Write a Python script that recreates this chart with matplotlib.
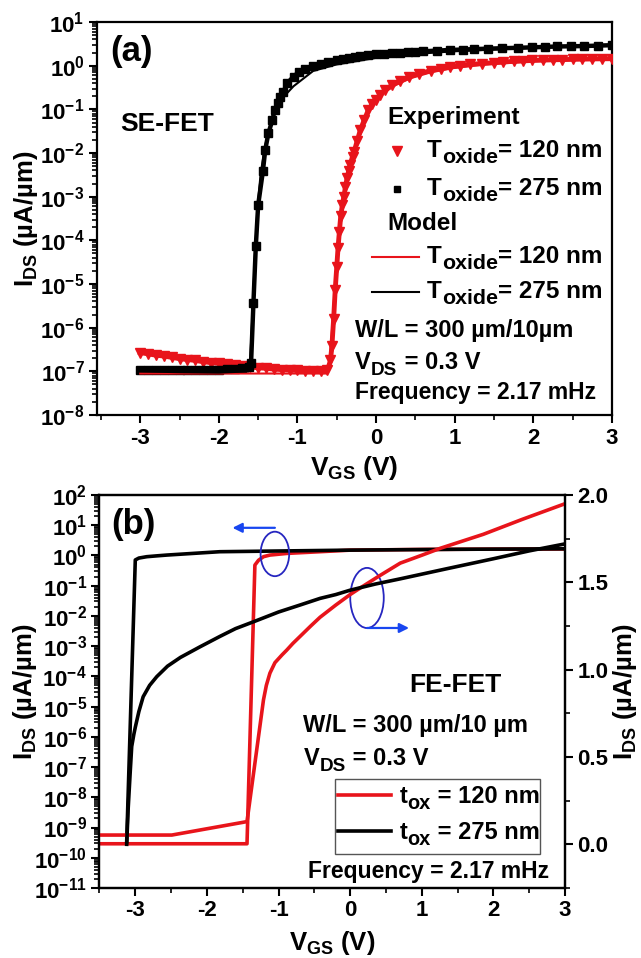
import numpy as np
import matplotlib
matplotlib.use("Agg")
import matplotlib.pyplot as plt
from matplotlib.ticker import MultipleLocator, LogLocator, NullFormatter, FuncFormatter
from matplotlib.patches import Ellipse, Rectangle

plt.rcParams['font.family'] = ['Liberation Sans', 'DejaVu Sans']
plt.rcParams['font.weight'] = 'bold'
plt.rcParams['axes.labelweight'] = 'bold'
plt.rcParams['axes.unicode_minus'] = False
plt.rcParams['mathtext.fontset'] = 'custom'
plt.rcParams['mathtext.rm'] = 'Liberation Sans:bold'
plt.rcParams['mathtext.bf'] = 'Liberation Sans:bold'
plt.rcParams['mathtext.it'] = 'Liberation Sans:bold'
plt.rcParams['mathtext.sf'] = 'Liberation Sans:bold'

RED = '#e8141b'
BLUE_E = '#2626c0'
BLUE_A = '#1846f0'

#---------------------------------------------------------------------------------
# panel (a) SE-FET, values as log10(I_DS)

exp120_v = [-3.0, -2.9, -2.8, -2.7, -2.6, -2.5, -2.4, -2.3, -2.2, -2.1, -2.0, -1.9, -1.8, -1.7,
            -1.6, -1.5, -1.4, -1.3, -1.2, -1.1, -1.0, -0.9, -0.8, -0.7, -0.62, -0.58, -0.562,
            -0.54, -0.52, -0.5, -0.484, -0.467, -0.45, -0.43, -0.41, -0.39, -0.37, -0.35, -0.33,
            -0.3, -0.28, -0.24, -0.2, -0.15, -0.1, -0.05, 0.0, 0.05, 0.11, 0.2, 0.3, 0.42, 0.55,
            0.7, 0.82, 0.94, 1.07, 1.2, 1.35, 1.5, 1.62, 1.75, 1.87, 1.98, 2.12, 2.25, 2.37, 2.5,
            2.62, 2.75, 2.87, 3.0]
exp120_log = [-6.57, -6.6, -6.63, -6.65, -6.68, -6.71, -6.73, -6.75, -6.78, -6.8, -6.82, -6.84,
              -6.86, -6.88, -6.9, -6.92, -6.93, -6.95, -6.96, -6.97, -6.98, -6.99, -7.0, -7.0,
              -6.98, -6.75, -6.42, -5.8, -5.13, -4.6, -4.17, -3.8, -3.45, -3.2, -3.0, -2.78,
              -2.58, -2.42, -2.27, -2.08, -1.97, -1.72, -1.47, -1.24, -1.02, -0.88, -0.78, -0.66,
              -0.56, -0.45, -0.36, -0.26, -0.18, -0.11, -0.07, -0.03, 0.0, 0.03, 0.05, 0.07,
              0.085, 0.1, 0.11, 0.12, 0.128, 0.135, 0.14, 0.145, 0.15, 0.155, 0.158, 0.16]

exp275_v = [-3.0, -2.9, -2.8, -2.7, -2.6, -2.5, -2.4, -2.3, -2.2, -2.1, -2.0, -1.9, -1.8, -1.7,
            -1.62, -1.59, -1.56, -1.53, -1.5, -1.44, -1.41, -1.37, -1.32, -1.29, -1.25, -1.22,
            -1.18, -1.13, -1.05, -0.98, -0.9, -0.8, -0.7, -0.61, -0.5, -0.42, -0.35, -0.27,
            -0.2, -0.1, 0.0, 0.1, 0.2, 0.3, 0.4, 0.5, 0.6, 0.77, 0.94, 1.1, 1.25, 1.42, 1.6,
            1.8, 1.98, 2.15, 2.3, 2.48, 2.65, 2.82, 3.0]
exp275_log = [-6.97, -6.97, -6.98, -6.98, -6.98, -6.98, -6.98, -6.98, -6.97, -6.97, -6.96,
              -6.95, -6.94, -6.93, -6.9, -6.8, -5.43, -4.14, -3.19, -2.42, -1.93, -1.55, -1.25,
              -1.02, -0.85, -0.71, -0.6, -0.4, -0.25, -0.14, -0.07, 0.0, 0.05, 0.09, 0.13, 0.155,
              0.18, 0.2, 0.22, 0.24, 0.26, 0.275, 0.29, 0.3, 0.31, 0.32, 0.33, 0.345, 0.36, 0.37,
              0.38, 0.39, 0.4, 0.41, 0.42, 0.43, 0.44, 0.445, 0.45, 0.46, 0.47]

mod120_v = [-3.0, -2.0, -1.0, -0.62, -0.6, -0.57, -0.54, -0.51, -0.48, -0.45, -0.42, -0.38,
            -0.34, -0.29, -0.22, -0.15, -0.08, 0.0, 0.1, 0.25, 0.45, 0.7, 1.0, 1.4, 2.0, 2.5, 3.0]
mod120_log = [-7.05, -7.05, -7.05, -7.05, -6.9, -6.3, -5.5, -4.7, -4.05, -3.5, -3.1, -2.65,
              -2.32, -2.0, -1.62, -1.28, -1.02, -0.82, -0.62, -0.44, -0.28, -0.15, -0.05, 0.03,
              0.1, 0.13, 0.15]

mod275_v = [-3.0, -2.5, -2.0, -1.62, -1.6, -1.57, -1.54, -1.51, -1.47, -1.42, -1.36, -1.28,
            -1.18, -1.05, -0.8, -0.5, 0.0, 0.5, 1.0, 2.0, 3.0]
mod275_log = [-7.0, -7.02, -7.03, -7.0, -6.7, -5.6, -4.3, -3.3, -2.5, -1.9, -1.45, -1.05,
              -0.72, -0.47, -0.12, 0.03, 0.18, 0.27, 0.33, 0.41, 0.47]

#---------------------------------------------------------------------------------
# panel (b) FE-FET, log curves (left axis) and linear curves (right axis)

fe120_log_v = [-3.5, -1.44, -1.33, -1.28, -1.21, -1.12, -0.88, -0.42, 0.0, 1.0, 2.0, 3.0]
fe120_log_i = [2.9e-10, 2.9e-10, 0.48, 0.69, 0.91, 1.03, 1.17, 1.33, 1.5, 1.58, 1.62, 1.64]

fe275_log_v = [-3.12, -3.0, -2.95, -2.84, -2.7, -2.56, -1.82, 0.0, 1.5, 3.0]
fe275_log_i = [3.4e-10, 0.71, 0.82, 0.91, 0.97, 1.03, 1.33, 1.5, 1.6, 1.66]

fe120_lin_v = [-3.5, -2.49, -1.44, -1.21, -1.17, -1.12, -1.05, -0.95, -0.885, -0.8, -0.65,
               -0.55, -0.42, -0.2, 0.0, 0.15, 0.4, 0.7, 1.0, 1.26, 1.86, 2.4, 3.0]
fe120_lin_i = [0.053, 0.053, 0.13, 0.827, 0.91, 0.98, 1.04, 1.085, 1.112, 1.15, 1.21,
               1.25, 1.30, 1.37, 1.43, 1.47, 1.535, 1.61, 1.655, 1.695, 1.775, 1.86, 1.95]

fe275_lin_v = [-3.12, -3.1, -3.07, -3.05, -3.02, -3.0, -2.95, -2.89, -2.8, -2.7, -2.55, -2.37,
               -2.1, -1.82, -1.6, -1.35, -1.0, -0.7, -0.42, -0.2, 0.0, 0.35, 0.7, 1.34, 2.0,
               2.5, 3.0]
fe275_lin_i = [0.0, 0.2, 0.42, 0.56, 0.63, 0.67, 0.76, 0.845, 0.91, 0.96, 1.02, 1.07,
               1.13, 1.19, 1.235, 1.274, 1.33, 1.37, 1.408, 1.43, 1.455, 1.49, 1.52, 1.577,
               1.635, 1.68, 1.72]

x_ticks = [-3, -2, -1, 0, 1, 2, 3]
lin_ticks = [0.0, 0.5, 1.0, 1.5, 2.0]


def sub_text(ax, x, y, pieces, size, sub_scale=0.88):
    #write text with subscripts, piece by piece, each one anchored on the previous one
    first = ax.text(x, y, pieces[0][0], transform=ax.transAxes, fontsize=size,
                    va='baseline', ha='left', zorder=6)
    prev = first
    for s, is_sub in pieces[1:]:
        if is_sub:
            t = ax.annotate(s, xy=(1, 0), xycoords=(prev, first), xytext=(0.3, -0.2*size),
                            textcoords='offset points', fontsize=sub_scale*size,
                            va='bottom', ha='left', zorder=6)
        else:
            t = ax.annotate(s, xy=(1, 0), xycoords=(prev, first), xytext=(0.3, 0),
                            textcoords='offset points', fontsize=size,
                            va='bottom', ha='left', zorder=6)
        prev = t
    return first


def log_fmt(v, p):
    return r"$\mathbf{10^{%d}}$" % int(round(np.log10(v)))


def style_axis(ax):
    for sp in ax.spines.values():
        sp.set_linewidth(1.6)
    ax.tick_params(which='major', direction='out', length=6, width=1.5, labelsize=16, pad=3)
    ax.tick_params(which='minor', direction='out', length=3.5, width=1.2)
    ax.xaxis.set_major_locator(MultipleLocator(1))
    ax.xaxis.set_minor_locator(MultipleLocator(0.5))
    ax.xaxis.set_major_formatter(FuncFormatter(lambda v, p: "%d" % int(round(v))))


fig = plt.figure(figsize=(6.41, 9.58), dpi=100)

#---------------------------------------------------------------------------------
# (a)
ax = fig.add_axes([0.1513, 0.5668, 0.8034, 0.4102])
ax.plot(exp120_v, 10**np.array(exp120_log), color=RED, lw=3.5, marker='v', ms=7.5,
        mec=RED, mfc=RED, zorder=3)
ax.plot(exp275_v, 10**np.array(exp275_log), color='black', lw=3.2, marker='s', ms=5.2,
        mec='black', mfc='black', zorder=3)
ax.plot(mod120_v, 10**np.array(mod120_log), color=RED, lw=1.5, zorder=4)
ax.plot(mod275_v, 10**np.array(mod275_log), color='black', lw=1.5, zorder=4)

ax.set_yscale('log')
ax.set_xlim(-3.55, 3)
ax.set_ylim(1e-8, 1e1)
style_axis(ax)
ax.yaxis.set_major_locator(LogLocator(base=10, numticks=20))
ax.yaxis.set_minor_locator(LogLocator(base=10, subs=np.arange(2, 10), numticks=20))
ax.yaxis.set_minor_formatter(NullFormatter())
ax.yaxis.set_major_formatter(FuncFormatter(log_fmt))
ax.set_xticks(x_ticks)

ax.set_xlabel(r"V$_{\mathbf{GS}}$ (V)", fontsize=19)
ax.xaxis.set_label_coords(0.5, -0.10)
ax.set_ylabel(r"I$_{\mathbf{DS}}$ (µA/µm)", fontsize=18.5)
ax.yaxis.label.set_verticalalignment('center')
ax.yaxis.set_label_coords(-0.137, 0.5)

ax.text(0.025, 0.924, "(a)", transform=ax.transAxes, fontsize=25, va='center', ha='left')
ax.text(0.045, 0.740, "SE-FET", transform=ax.transAxes, fontsize=19, va='center', ha='left')

# legend of panel (a), written by hand
ax.text(0.563, 0.758, "Experiment", transform=ax.transAxes, fontsize=17.5, va='center')
ax.plot([0.582], [0.672], 'v', color=RED, ms=7, transform=ax.transAxes)
sub_text(ax, 0.640, 0.657, [("T", False), ("oxide", True), ("= 120 nm", False)], 17.5)
ax.plot([0.582], [0.575], 's', color='black', ms=5, transform=ax.transAxes)
sub_text(ax, 0.640, 0.560, [("T", False), ("oxide", True), ("= 275 nm", False)], 17.5)
ax.text(0.563, 0.4885, "Model", transform=ax.transAxes, fontsize=17.5, va='center')
ax.plot([0.5334, 0.6258], [0.4028, 0.4028], color=RED, lw=1.5, transform=ax.transAxes)
sub_text(ax, 0.640, 0.387, [("T", False), ("oxide", True), ("= 120 nm", False)], 17.5)
ax.plot([0.5334, 0.6258], [0.3138, 0.3138], color='black', lw=1.5, transform=ax.transAxes)
sub_text(ax, 0.640, 0.298, [("T", False), ("oxide", True), ("= 275 nm", False)], 17.5)

ax.text(0.501, 0.2163, "W/L = 300 µm/10µm", transform=ax.transAxes, fontsize=17, va='center')
sub_text(ax, 0.501, 0.117, [("V", False), ("DS", True), (" = 0.3 V", False)], 17, 0.8)
ax.text(0.501, 0.056, "Frequency = 2.17 mHz", transform=ax.transAxes, fontsize=16.5,
        va='center')

#---------------------------------------------------------------------------------
# (b)
bx = fig.add_axes([0.1552, 0.0731, 0.7262, 0.4102])
bx2 = bx.twinx()

bx.plot(fe120_log_v, fe120_log_i, color=RED, lw=2.6)
bx.plot(fe275_log_v, fe275_log_i, color='black', lw=2.6)
bx2.plot(fe120_lin_v, fe120_lin_i, color=RED, lw=2.6)
bx2.plot(fe275_lin_v, fe275_lin_i, color='black', lw=2.6)

bx.set_yscale('log')
bx.set_xlim(-3.5, 3)
bx.set_ylim(1e-11, 1e2)
bx2.set_ylim(-0.25, 2.0)
style_axis(bx)
style_axis(bx2)
bx.yaxis.set_major_locator(LogLocator(base=10, numticks=20))
bx.yaxis.set_minor_locator(LogLocator(base=10, subs=np.arange(2, 10), numticks=20))
bx.yaxis.set_minor_formatter(NullFormatter())
bx.yaxis.set_major_formatter(FuncFormatter(log_fmt))
bx.set_xticks(x_ticks)
bx2.set_yticks(lin_ticks)
bx2.yaxis.set_minor_locator(MultipleLocator(0.25))
bx2.yaxis.set_major_formatter(FuncFormatter(lambda v, p: "%.1f" % v))

bx.set_xlabel(r"V$_{\mathbf{GS}}$ (V)", fontsize=18.5)
bx.xaxis.set_label_coords(0.5, -0.104)
bx.set_ylabel(r"I$_{\mathbf{DS}}$ (µA/µm)", fontsize=18.5)
bx.yaxis.label.set_verticalalignment('center')
bx.yaxis.set_label_coords(-0.160, 0.5)
bx2.set_ylabel(r"I$_{\mathbf{DS}}$ (µA/µm)", fontsize=18.5, rotation=90)
bx2.yaxis.label.set_verticalalignment('center')
bx2.yaxis.set_label_coords(1.130, 0.5)

bx2.text(0.0247, 0.926, "(b)", transform=bx2.transAxes, fontsize=25, va='center', ha='left')
bx2.text(0.666, 0.5165, "FE-FET", transform=bx2.transAxes, fontsize=19, va='center')
bx2.text(0.438, 0.4127, "W/L = 300 µm/10 µm", transform=bx2.transAxes, fontsize=17,
         va='center')
sub_text(bx2, 0.438, 0.313, [("V", False), ("DS", True), (" = 0.3 V", False)], 17, 0.8)
bx2.text(0.4486, 0.0407, "Frequency = 2.17 mHz", transform=bx2.transAxes, fontsize=16.5,
         va='center')

# ellipses and arrows telling which curves go with which axis
bx2.add_patch(Ellipse((0.3768, 0.850), 0.0614, 0.1132, transform=bx2.transAxes, fill=False,
                      ec=BLUE_E, lw=1.3))
bx2.annotate("", xy=(0.2857, 0.9165), xytext=(0.3768, 0.9165), xycoords='axes fraction',
             arrowprops=dict(arrowstyle='-|>', color=BLUE_A, lw=1.6, mutation_scale=14,
                             shrinkA=0, shrinkB=0))
bx2.add_patch(Ellipse((0.5747, 0.738), 0.072, 0.153, transform=bx2.transAxes, fill=False,
                      ec=BLUE_E, lw=1.3))
bx2.annotate("", xy=(0.665, 0.6616), xytext=(0.5747, 0.6616), xycoords='axes fraction',
             arrowprops=dict(arrowstyle='-|>', color=BLUE_A, lw=1.6, mutation_scale=14,
                             shrinkA=0, shrinkB=0))

# legend box of panel (b), written by hand so that it sits where the reference has it
bx2.add_patch(Rectangle((0.5063, 0.0868), 0.44, 0.1916, transform=bx2.transAxes,
                        fc='white', ec='#555555', lw=1.0, zorder=5))
bx2.plot([0.5115, 0.6262], [0.2359, 0.2359], color=RED, lw=2.6, transform=bx2.transAxes,
         zorder=6)
sub_text(bx2, 0.644, 0.2163, [("t", False), ("ox", True), (" = 120 nm", False)], 17, 0.85)
bx2.plot([0.5115, 0.6262], [0.1438, 0.1438], color='black', lw=2.6, transform=bx2.transAxes,
         zorder=6)
sub_text(bx2, 0.644, 0.1234, [("t", False), ("ox", True), (" = 275 nm", False)], 17, 0.85)

fig.savefig("out.png", dpi=100)
